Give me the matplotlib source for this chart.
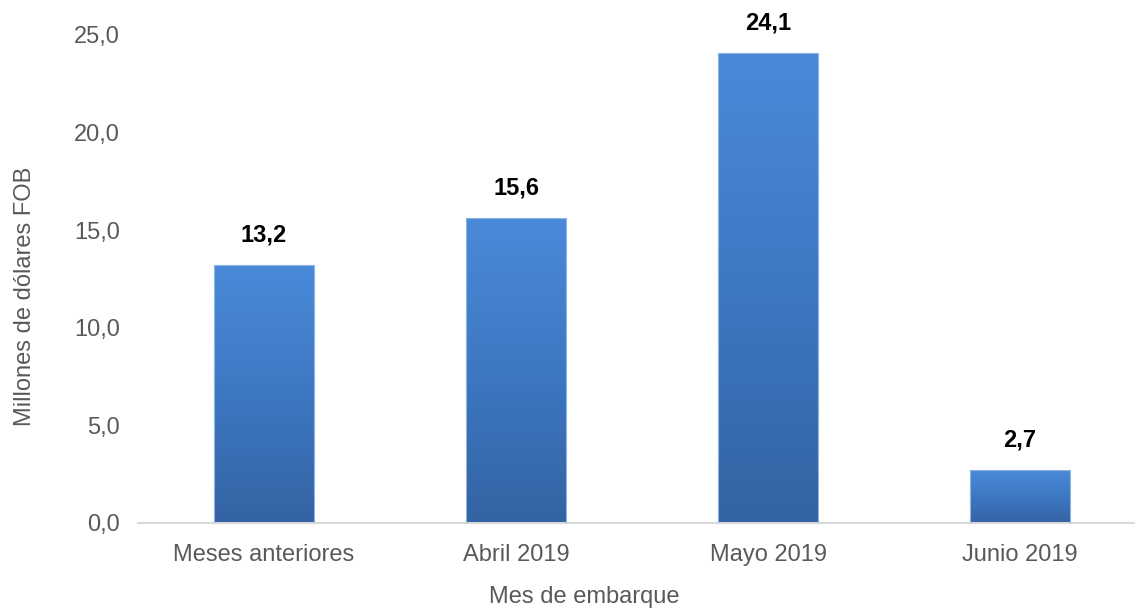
import numpy as np
import matplotlib.pyplot as plt
from matplotlib.colors import LinearSegmentedColormap
from matplotlib.ticker import FuncFormatter

categories = ["Meses anteriores", "Abril 2019", "Mayo 2019", "Junio 2019"]
values = [13.2, 15.6, 24.1, 2.7]
value_labels = ["13,2", "15,6", "24,1", "2,7"]

plt.rcParams['font.family'] = ['Liberation Sans', 'DejaVu Sans']

fig = plt.figure(figsize=(11.35, 6.09), dpi=100)
ax = fig.add_axes([138 / 1135, 86 / 609, 997 / 1135, 488 / 609])

x = np.arange(len(categories))
bars = ax.bar(x, values, width=0.40, color="none", edgecolor="#8fb4e3", linewidth=0.8, zorder=3)

# vertical gradient inside each bar: light on top, dark at bottom
cmap = LinearSegmentedColormap.from_list("bluegrad", ["#3463a3", "#3d78c2", "#4a8ad9"])
grad = np.linspace(0, 1, 256).reshape(-1, 1)
for b in bars:
    x0, y0 = b.get_x(), b.get_y()
    w, h = b.get_width(), b.get_height()
    im = ax.imshow(grad, cmap=cmap, aspect="auto", origin="lower",
                   extent=[x0, x0 + w, y0, y0 + h], zorder=2)
    im.set_clip_path(b)

for xi, v, lab in zip(x, values, value_labels):
    ax.text(xi, v + 0.95, lab, ha="center", va="bottom", fontsize=17,
            fontweight="bold", color="black")

ax.set_xlim(-0.5, 3.456)
ax.set_ylim(0, 25)
ax.set_yticks(np.arange(0, 26, 5))
ax.yaxis.set_major_formatter(FuncFormatter(lambda v, p: f"{v:.1f}".replace(".", ",")))
ax.set_xticks(x)
ax.set_xticklabels(categories)
ax.tick_params(axis="both", length=0, labelsize=17, labelcolor="#595959")
ax.tick_params(axis="x", pad=15)
ax.tick_params(axis="y", pad=13)

for s in ["top", "right", "left"]:
    ax.spines[s].set_visible(False)
ax.spines["bottom"].set_color("#d9d9d9")
ax.spines["bottom"].set_linewidth(1.5)

ax.set_xlabel("Mes de embarque", fontsize=17, color="#595959")
ax.set_ylabel("Millones de dólares FOB", fontsize=17, color="#595959")
ax.xaxis.set_label_coords(0.448, -0.130)
ax.yaxis.set_label_coords(-0.102, 0.465)

fig.savefig("out.png", dpi=100)
